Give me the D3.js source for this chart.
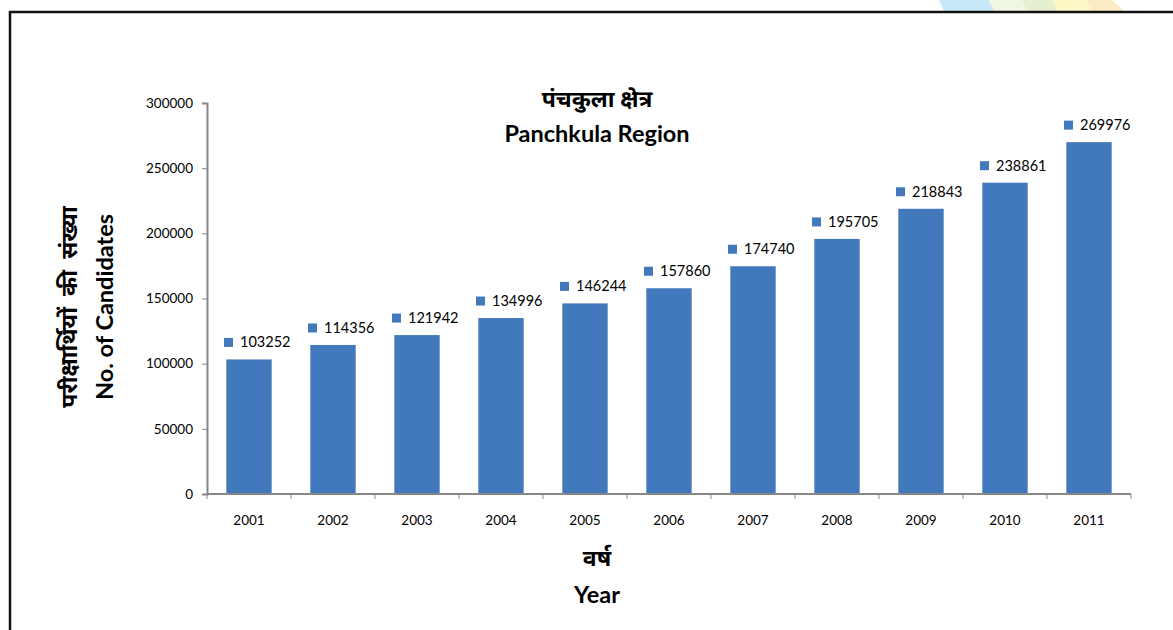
<!DOCTYPE html>
<html>
<head>
<meta charset="utf-8">
<script src="https://cdnjs.cloudflare.com/ajax/libs/d3/7.8.5/d3.min.js"></script>
<style>
  body { margin: 0; background: #fff; }
  svg { display: block; font-family: Lato, "Noto Sans", sans-serif; }
</style>
</head>
<body>
<svg id="chart" width="1173" height="630"></svg>
<script>
// chart data
var years = ["2001", "2002", "2003", "2004", "2005", "2006", "2007", "2008", "2009", "2010", "2011"];
var candidates = [103252, 114356, 121942, 134996, 146244, 157860, 174740, 195705, 218843, 238861, 269976];
var yTicks = [0, 50000, 100000, 150000, 200000, 250000, 300000];

var titleHi = "पंचकुला क्षेत्र";
var titleEn = "Panchkula Region";
var yTitleHi = "परीक्षार्थियों  की  संख्या";
var yTitleEn = "No. of Candidates";
var xTitleHi = "वर्ष";
var xTitleEn = "Year";

var barColor = "#4279bc";
var axisColor = "#868686";

var svg = d3.select("#chart");

// slanted colour stripes peeking in at the top right
var stripes = [
    {c: "#c8e7f8", pts: [[939, 0], [989, 0], [994, 11], [944, 11]]},
    {c: "#f0f6e4", pts: [[989, 0], [1022, 0], [1027, 11], [994, 11]]},
    {c: "#e4f0cf", pts: [[1022, 0], [1052, 0], [1058, 11], [1027, 11]]},
    {c: "#fcf7c4", pts: [[1052, 0], [1085, 0], [1095, 11], [1058, 11]]},
    {c: "#fdebc6", pts: [[1085, 0], [1112, 0], [1124, 11], [1095, 11]]}
];
svg.selectAll("polygon.stripe")
    .data(stripes)
    .enter().append("polygon")
    .attr("class", "stripe")
    .attr("points", function(d) { return d.pts.join(" "); })
    .attr("fill", function(d) { return d.c; });

// outer frame (top and left edges only visible)
svg.append("path")
    .attr("d", "M10,632 L10,12 L1175,12")
    .attr("fill", "none")
    .attr("stroke", "#111")
    .attr("stroke-width", 2.5);

var plotLeft = 207, plotRight = 1131, plotTop = 103, plotBottom = 494;

var x = d3.scaleBand()
    .domain(years)
    .range([plotLeft, plotRight])
    .paddingInner(0.46)
    .paddingOuter(0.23);

var y = d3.scaleLinear()
    .domain([0, 300000])
    .range([plotBottom, plotTop]);

// y axis
var yAxis = svg.append("g")
    .attr("transform", "translate(" + plotLeft + ",0)")
    .call(d3.axisLeft(y).tickValues(yTicks).tickSize(5).tickPadding(9).tickFormat(d3.format("d")));
yAxis.selectAll("text").attr("font-size", 13.5).attr("fill", "#000").attr("font-family", "Lato");
yAxis.select(".domain").attr("stroke", axisColor).attr("stroke-width", 2);
yAxis.selectAll(".tick line").attr("stroke", axisColor);

// bars
svg.append("g").selectAll("rect")
    .data(candidates)
    .enter().append("rect")
    .attr("x", function(d, i) { return x(years[i]); })
    .attr("width", x.bandwidth())
    .attr("y", function(d) { return y(d); })
    .attr("height", function(d) { return plotBottom - y(d); })
    .attr("fill", barColor);

// x axis with ticks at band boundaries
var xAxis = svg.append("g")
    .attr("transform", "translate(0," + plotBottom + ")");
xAxis.append("line")
    .attr("x1", plotLeft).attr("x2", plotRight)
    .attr("stroke", axisColor).attr("stroke-width", 2);
var step = x.step();
xAxis.selectAll("line.tick")
    .data(d3.range(years.length + 1))
    .enter().append("line")
    .attr("class", "tick")
    .attr("x1", function(i) { return plotLeft + i * step; })
    .attr("x2", function(i) { return plotLeft + i * step; })
    .attr("y1", 0).attr("y2", 5)
    .attr("stroke", axisColor);
xAxis.selectAll("text")
    .data(years)
    .enter().append("text")
    .attr("x", function(d) { return x(d) + x.bandwidth() / 2; })
    .attr("y", 31)
    .attr("text-anchor", "middle")
    .attr("font-size", 13.5)
    .text(function(d) { return d; });

// value labels with a small legend key square
var labels = svg.append("g").selectAll("g")
    .data(candidates)
    .enter().append("g")
    .attr("transform", function(d, i) {
        return "translate(" + (x(years[i]) + x.bandwidth() / 2) + "," + (y(d) - 17) + ")";
    });
labels.append("rect")
    .attr("x", -25).attr("y", -4.5)
    .attr("width", 9).attr("height", 9)
    .attr("fill", barColor);
labels.append("text")
    .attr("x", -9).attr("y", 5)
    .attr("font-size", 14.5)
    .text(function(d) { return d; });

// titles
svg.append("text")
    .attr("x", 597).attr("y", 107)
    .attr("text-anchor", "middle")
    .attr("font-size", 23).attr("font-weight", "bold")
    .text(titleHi);
svg.append("text")
    .attr("x", 597).attr("y", 142)
    .attr("text-anchor", "middle")
    .attr("font-size", 23.5).attr("font-weight", "bold")
    .text(titleEn);

svg.append("text")
    .attr("transform", "translate(77,307) rotate(-90)")
    .attr("text-anchor", "middle")
    .attr("font-size", 23).attr("font-weight", "bold")
    .attr("xml:space", "preserve")
    .style("white-space", "pre")
    .text(yTitleHi);
svg.append("text")
    .attr("transform", "translate(113,307) rotate(-90)")
    .attr("text-anchor", "middle")
    .attr("font-size", 23.5).attr("font-weight", "bold")
    .text(yTitleEn);

svg.append("text")
    .attr("x", 597).attr("y", 566)
    .attr("text-anchor", "middle")
    .attr("font-size", 23).attr("font-weight", "bold")
    .text(xTitleHi);
svg.append("text")
    .attr("x", 597).attr("y", 603)
    .attr("text-anchor", "middle")
    .attr("font-size", 23.5).attr("font-weight", "bold")
    .text(xTitleEn);
</script>
</body>
</html>
